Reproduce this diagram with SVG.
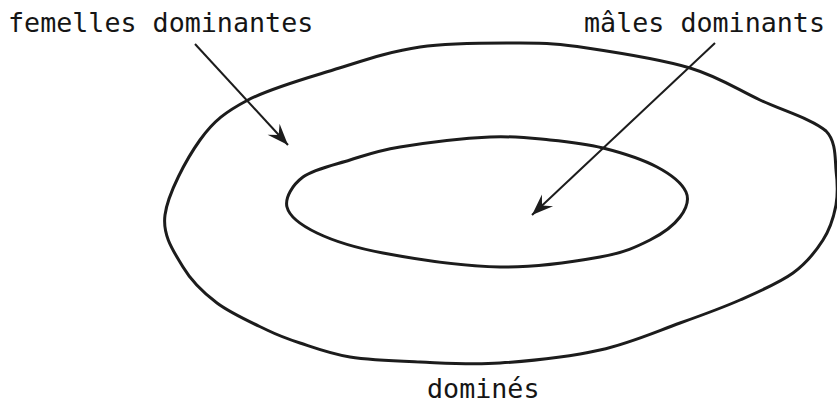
<svg xmlns="http://www.w3.org/2000/svg" width="837" height="405" viewBox="0 0 837 405">
<style>
.lbl{font-family:"DejaVu Sans Mono","Liberation Mono",monospace;font-size:26.7px;fill:#151515}
.ring{fill:none;stroke:#1c1c1c;stroke-width:3;stroke-linejoin:round}
.arr{fill:none;stroke:#1c1c1c;stroke-width:2}
</style>
<defs>
<marker id="head" markerUnits="userSpaceOnUse" markerWidth="30" markerHeight="30" viewBox="-20 -10 24 20" refX="0" refY="0" orient="auto">
<path d="M0,0 L-17,-6.5 L-11,0 L-17,6.5 Z" fill="#1c1c1c"/>
</marker>
</defs>
<rect width="837" height="405" fill="#fff"/>
<g id="outer">
<path class="ring" d="M165,215 C167.8,193.8 186.2,159.2 200,140 C213.8,120.8 225.8,111.7 248,100 C270.2,88.3 304.3,78.8 333,70 C361.7,61.2 388.8,51.5 420,47 C451.2,42.5 492.2,42.8 520,43 C547.8,43.2 558.7,43.8 587,48 C615.3,52.2 661.2,59.3 690,68 C718.8,76.7 737.2,89.3 760,100 C782.8,110.7 812,119 826,131 C836,141 835,157.8 836,170 C837.5,182.2 838,193.3 836,205 C833.8,216.7 830.2,228.7 823,240 C815.8,251.3 806.8,263 793,273 C779.2,283 758.8,291.7 740,300 C721.2,308.3 703.3,314.7 680,323 C656.7,331.3 630,343.3 600,350 C570,356.7 530,361 500,363 C470,365 445,363 420,362 C395,361 370,360.2 350,357 C330,353.8 313.8,347.5 300,343 C286.2,338.5 280.8,336.7 267,330 C253.2,323.3 231,313.5 217,303 C203,292.5 191.7,281.7 183,267 C174.3,252.3 162.2,236.2 165,215 Z"/>
</g>
<g id="inner">
<path class="ring" d="M287,207 C284.7,197.7 292.5,184.8 303,177 C313.5,169.2 333.8,165 350,160 C366.2,155 376.7,150.8 400,147 C423.3,143.2 465,138.2 490,137 C515,135.8 531.2,138.2 550,140 C568.8,141.8 585.2,143.5 603,148 C620.8,152.5 643.2,159.7 657,167 C670.8,174.3 682.2,183.7 686,192 C689.8,200.3 686,209 680,217 C674,225 663.3,233.3 650,240 C636.7,246.7 625,252.5 600,257 C575,261.5 536.2,267.7 500,267 C463.8,266.3 413.5,258.7 383,253 C352.5,247.3 333,240.7 317,233 C301,225.3 289.3,216.3 287,207 Z"/>
</g>
<g id="connectors">
<line class="arr" x1="195" y1="44" x2="288" y2="145" marker-end="url(#head)"/>
<line class="arr" x1="715" y1="43" x2="532" y2="215" marker-end="url(#head)"/>
</g>
<g id="label-femelles"><text class="lbl" x="8" y="32">femelles dominantes</text></g>
<g id="label-males"><text class="lbl" x="584" y="32">mâles dominants</text></g>
<g id="label-domines"><text class="lbl" x="427" y="398">dominés</text></g>
</svg>
